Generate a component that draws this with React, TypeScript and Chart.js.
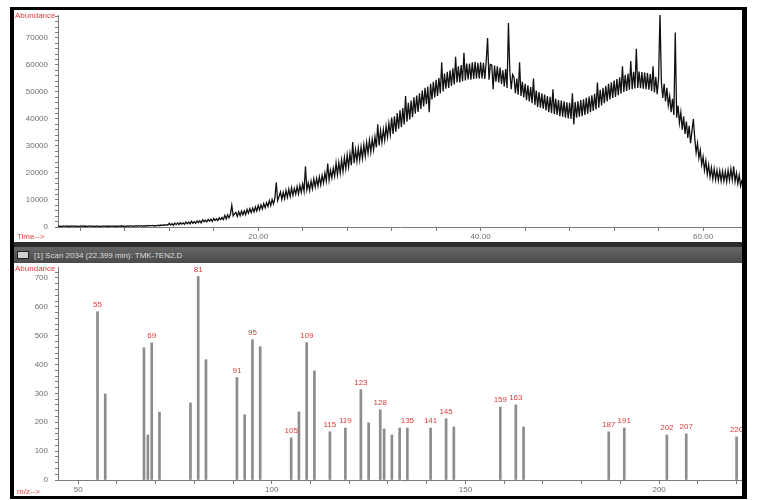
import React, { useEffect, useRef } from 'react';
import { Chart, registerables } from 'chart.js';

Chart.register(...registerables);

// ---- Chromatogram (TIC), one sample every 0.125 min ----
const TIME_START = 2.0;
const TIME_STEP = 0.125;
const ABUNDANCE = [
  // 2.000 - 6.875
  408, 216, 348, 180, 396, 264, 420, 204, 324, 192, 384, 240, 432, 228, 336, 180, 372, 192, 408, 276,
  360, 168, 396, 252, 420, 216, 312, 204, 408, 228, 348, 180, 384, 264, 420, 192, 360, 216, 396, 240,
  // 7.000 - 11.875
  420, 230, 360, 190, 410, 290, 440, 220, 350, 230, 420, 280, 470, 270, 380, 220, 460, 290, 510, 330,
  480, 270, 450, 350, 540, 320, 610, 400, 600, 380, 520, 410, 700, 480, 720, 520, 810, 600, 880, 690,
  // 12.000 - 16.875
  1350, 750, 1200, 620, 1450, 900, 1500, 850, 1650, 1050, 1500, 1000, 1800, 1200, 1850, 1150, 2100, 1400, 1950, 1350,
  2250, 1600, 2300, 1500, 2650, 1950, 2500, 1900, 2800, 2150, 2900, 2050, 3150, 2450, 3050, 2400, 3400, 2700, 3500, 2750,
  // 17.000 - 21.875
  4300, 3000, 4500, 3400, 4700, 8000, 4100, 4900, 5400, 3900, 5600, 4200, 5900, 4500, 6000, 4600, 6500, 5100, 6800, 5300,
  7000, 5600, 7400, 5900, 8000, 6300, 8200, 6700, 8700, 7100, 9000, 7600, 9800, 7900, 10200, 8600, 10700, 16500, 9800, 11300,
  // 22.000 - 26.875
  13000, 10200, 12800, 10500, 13500, 11000, 14000, 11300, 14500, 11700, 14300, 12200, 15000, 12300, 15400, 12800, 16000, 13200, 22500, 13800,
  16300, 13500, 17000, 14200, 17800, 14800, 18000, 15200, 18600, 15600, 19100, 16300, 20000, 17000, 23500, 17400, 21000, 18200, 21800, 18800,
  // 27.000 - 31.875
  23700, 19300, 23900, 19900, 24800, 20600, 25700, 21600, 26700, 22300, 27200, 22900, 31500, 23600, 28600, 24400, 29200, 24800, 29600, 25400,
  30400, 26200, 31300, 27300, 32200, 27800, 32500, 28600, 33400, 29500, 38000, 30200, 35700, 31300, 36100, 32200, 37300, 33300, 38400, 34200,
  // 32.000 - 36.875
  40500, 34500, 41000, 35300, 42200, 36400, 43200, 37000, 44000, 38000, 48500, 39000, 46000, 39800, 46800, 40700, 48000, 42000, 48700, 42600,
  49500, 43700, 50500, 44600, 51500, 45500, 52000, 42500, 53000, 47200, 53800, 48000, 54500, 48500, 55200, 49500, 61000, 50200, 56800, 51200,
  // 37.000 - 41.875
  57500, 51500, 58000, 52200, 58800, 52800, 63000, 53500, 59500, 53500, 60000, 54000, 64500, 54300, 60500, 54600, 60500, 54500, 61000, 54800,
  61200, 55000, 60800, 55000, 61000, 55000, 60800, 54800, 61200, 70000, 54500, 60200, 60000, 51000, 59800, 53800, 59500, 53500, 59000, 53000,
  // 42.000 - 46.875
  58000, 52000, 58500, 51500, 75500, 57500, 51000, 56500, 55500, 49500, 55000, 49000, 61000, 48500, 53800, 48000, 53000, 47000, 52500, 46500,
  51800, 45800, 55000, 45200, 50500, 44500, 50000, 44200, 49500, 43800, 49000, 43200, 48500, 42500, 48200, 42200, 51000, 41800, 47500, 41500,
  // 47.000 - 51.875
  47000, 41000, 46800, 40800, 46500, 40500, 46200, 40200, 46000, 40000, 49500, 38000, 46300, 40500, 46500, 40800, 47000, 41000, 47300, 41500,
  47800, 42000, 48300, 42500, 48800, 43000, 49300, 43500, 53500, 44200, 50800, 45000, 51500, 45800, 52300, 46500, 53000, 47200, 53600, 47800,
  // 52.000 - 56.875
  54200, 48200, 54800, 48800, 55400, 49400, 59500, 50000, 56400, 50400, 56800, 50800, 61500, 51000, 57500, 51300, 66000, 51500, 57600, 51400,
  57400, 51200, 57200, 51000, 57000, 50800, 56600, 50400, 59500, 49800, 55600, 49200, 55000, 79000, 53800, 47800, 53000, 46500, 51500, 45000,
  // 57.000 - 61.875
  48500, 42500, 47500, 41500, 72000, 40500, 45000, 38500, 42500, 36000, 41000, 34500, 39000, 33000, 37500, 31000, 35500, 40000, 33000, 27500,
  31000, 25500, 28500, 23000, 26000, 21000, 24500, 19500, 23000, 18500, 22000, 17800, 21500, 17500, 21000, 17200, 20800, 17000, 20700, 17000,
  // 62.000 - 63.500
  20500, 16800, 21000, 17300, 21500, 17500, 22500, 16800, 20000, 16000, 19200, 15200, 17500,
];
const TIME_LABELED = [20, 40, 60];
const ABUNDANCE_LABEL_STEP = 10000;

// ---- Mass spectrum ----
const MZ = [55, 57, 67, 68, 69, 71, 79, 81, 83, 91, 93, 95, 97, 105, 107, 109, 111, 115, 119, 123, 125, 128, 129, 131, 133, 135, 141, 145, 147, 159, 163, 165, 187, 191, 202, 207, 220];
const INTENSITY = [583, 298, 458, 156, 475, 235, 267, 705, 417, 355, 226, 486, 462, 146, 236, 476, 378, 167, 180, 313, 198, 243, 177, 156, 180, 180, 180, 212, 184, 253, 260, 184, 167, 180, 156, 160, 149];
const LABELED_MZ = [55, 69, 81, 91, 95, 105, 109, 115, 119, 123, 128, 135, 141, 145, 159, 163, 187, 191, 202, 207, 220];
const MZ_LABELED = [50, 100, 150, 200];
const INTENSITY_LABEL_STEP = 100;

const TITLE = '[1] Scan 2034 (22.399 min): TMK-7EN2.D';

const FONT_FAMILY = '"Liberation Sans", Arial, sans-serif';
const AXIS_GRAY = '#7a7a7a';
const TEXT_GRAY = '#6e6e6e';
const RED = '#e23b3b';

const stepTicks = (min: number, max: number, step: number) => {
  const out: { value: number }[] = [];
  for (let k = Math.ceil(min / step - 1e-9); k * step <= max + 1e-9; k++) out.push({ value: k * step });
  return out;
};

const cornerLabels = (topText: string, bottomText: string, bottomY: number) => ({
  id: 'cornerLabels',
  afterDraw(chart: any) {
    const ctx = chart.ctx;
    ctx.save();
    ctx.fillStyle = RED;
    ctx.font = `8px ${FONT_FAMILY}`;
    ctx.textAlign = 'left';
    ctx.textBaseline = 'middle';
    ctx.fillText(topText, 1, 6);
    ctx.fillText(bottomText, 3, bottomY);
    ctx.restore();
  },
});

const peakLabels = {
  id: 'peakLabels',
  afterDatasetsDraw(chart: any) {
    const ctx = chart.ctx;
    const xs = chart.scales.x;
    const ys = chart.scales.y;
    ctx.save();
    ctx.fillStyle = RED;
    ctx.font = `8px ${FONT_FAMILY}`;
    ctx.textAlign = 'center';
    ctx.textBaseline = 'middle';
    LABELED_MZ.forEach((m) => {
      const i = MZ.indexOf(m);
      if (i < 0) return;
      const px = xs.getPixelForValue(m);
      const py = ys.getPixelForValue(INTENSITY[i]);
      ctx.fillText(String(m), px, py - 7);
    });
    ctx.restore();
  },
};

const tickFont = { family: FONT_FAMILY, size: 8 };

const xAxis = (min: number, max: number, step: number, height: number, labeled: number[], fmt: (v: number) => string) => ({
  type: 'linear',
  min,
  max,
  offset: false,
  afterBuildTicks(scale: any) { scale.ticks = stepTicks(min, max, step); },
  afterFit(scale: any) {
    scale.height = height;
    scale.paddingLeft = 0;
    scale.paddingRight = 0;
  },
  border: { color: AXIS_GRAY, width: 1 },
  grid: { offset: false, drawOnChartArea: false, drawTicks: true, tickLength: 4, color: AXIS_GRAY },
  ticks: {
    autoSkip: false,
    maxRotation: 0,
    padding: 1,
    color: TEXT_GRAY,
    font: tickFont,
    callback: (v: any) => (labeled.includes(Number(v)) ? fmt(Number(v)) : ''),
  },
});

const yAxis = (max: number, step: number, labelStep: number) => ({
  type: 'linear',
  min: 0,
  max,
  afterBuildTicks(scale: any) { scale.ticks = stepTicks(0, max, step); },
  afterFit(scale: any) {
    scale.width = 44;
    scale.paddingTop = 0;
    scale.paddingBottom = 0;
  },
  border: { color: AXIS_GRAY, width: 1 },
  grid: { drawOnChartArea: false, drawTicks: true, tickLength: 3, color: AXIS_GRAY },
  ticks: {
    autoSkip: false,
    padding: 7,
    color: TEXT_GRAY,
    font: tickFont,
    callback: (v: any) => (Math.abs(Number(v) % labelStep) < 1e-6 ? String(Math.round(Number(v))) : ''),
  },
});

function TicChart() {
  const ref = useRef<HTMLCanvasElement | null>(null);
  useEffect(() => {
    if (!ref.current) return;
    const points = ABUNDANCE.map((v, i) => ({ x: TIME_START + i * TIME_STEP, y: v }));
    const chart = new Chart(ref.current, {
      type: 'line',
      data: {
        datasets: [
          {
            data: points,
            borderColor: '#111',
            borderWidth: 1.3,
            pointRadius: 0,
            tension: 0,
            fill: false,
          },
        ],
      },
      options: {
        responsive: false,
        animation: false,
        events: [],
        layout: { padding: { top: 5, right: 0, left: 0, bottom: 0 } },
        plugins: { legend: { display: false }, tooltip: { enabled: false } },
        scales: {
          x: xAxis(2.0, 63.5, 4, 15, TIME_LABELED, (v) => v.toFixed(2)),
          y: yAxis(78500, 2000, ABUNDANCE_LABEL_STEP),
        },
      },
      plugins: [cornerLabels('Abundance', 'Time-->', 227)],
    } as any);
    return () => chart.destroy();
  }, []);
  return <canvas ref={ref} width={728} height={232} style={{ display: 'block' }} />;
}

function SpectrumChart() {
  const ref = useRef<HTMLCanvasElement | null>(null);
  useEffect(() => {
    if (!ref.current) return;
    const points = MZ.map((m, i) => ({ x: m, y: INTENSITY[i] }));
    const chart = new Chart(ref.current, {
      type: 'bar',
      data: {
        datasets: [
          {
            data: points,
            backgroundColor: '#8c8c8c',
            borderWidth: 0,
            barThickness: 2,
          },
        ],
      },
      options: {
        responsive: false,
        animation: false,
        events: [],
        layout: { padding: { top: 4, right: 0, left: 0, bottom: 0 } },
        plugins: { legend: { display: false }, tooltip: { enabled: false } },
        scales: {
          x: xAxis(44.8, 221.4, 10, 16, MZ_LABELED, (v) => String(v)),
          y: yAxis(738, 20, INTENSITY_LABEL_STEP),
        },
      },
      plugins: [peakLabels, cornerLabels('Abundance', 'm/z-->', 229)],
    } as any);
    return () => chart.destroy();
  }, []);
  return <canvas ref={ref} width={728} height={233} style={{ display: 'block' }} />;
}

export default function App() {
  return (
    <div style={{ position: 'fixed', left: 0, top: 0, width: 759, height: 500, background: '#fff', overflow: 'hidden' }}>
      <div style={{ position: 'absolute', left: 10, top: 7, width: 737, height: 492, background: '#000' }} />
      <div style={{ position: 'absolute', left: 14, top: 10, width: 728, height: 232, background: '#fff' }}>
        <TicChart />
      </div>
      <div style={{ position: 'absolute', left: 14, top: 242, width: 728, height: 5, background: '#2c2c2c' }} />
      <div
        style={{
          position: 'absolute',
          left: 14,
          top: 247,
          width: 728,
          height: 16,
          background: 'linear-gradient(#666, #4a4a4a)',
          display: 'flex',
          alignItems: 'center',
        }}
      >
        <div style={{ marginLeft: 3, width: 12, height: 8, background: '#cfcfcf', border: '1px solid #222', boxSizing: 'border-box' }} />
        <span style={{ marginLeft: 5, color: '#dcdcdc', font: `8px ${FONT_FAMILY}`, whiteSpace: 'nowrap' }}>{TITLE}</span>
      </div>
      <div style={{ position: 'absolute', left: 14, top: 263, width: 728, height: 233, background: '#fff' }}>
        <SpectrumChart />
      </div>
    </div>
  );
}
